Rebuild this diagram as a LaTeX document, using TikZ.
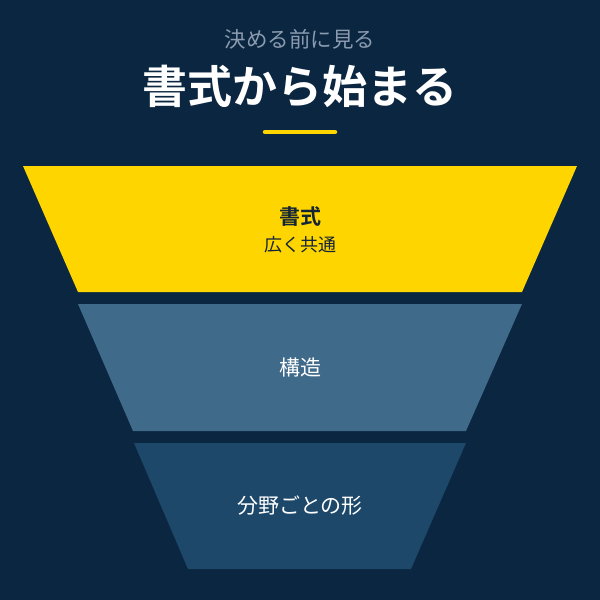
\documentclass[tikz,border=0pt]{standalone}
\usepackage{fontspec}
\setmainfont{Noto Sans CJK JP}
\newfontfamily\cjk{Noto Sans CJK JP}
\newfontfamily\cjkbold{Noto Sans CJK JP Bold}
\definecolor{bg}{HTML}{0B2640}
\definecolor{ylw}{HTML}{FFD500}
\definecolor{midblue}{HTML}{3F6A8A}
\definecolor{lowblue}{HTML}{1E486A}
\definecolor{subgrey}{HTML}{8A9BB0}
\definecolor{darktext}{HTML}{142536}
\begin{document}
\begin{tikzpicture}[x=1pt,y=-1pt,
  lbl/.style={inner sep=0pt,anchor=center},
  band/.style={draw=none}]
\fill[bg] (0,0) rectangle (600,600);
\useasboundingbox (0,0) rectangle (600,600);
\node[lbl,text=subgrey,font=\cjk\fontsize{21.5}{24}\selectfont] (sub) at (300,39) {決める前に見る};
\node[lbl,text=white,font=\cjkbold\fontsize{45}{50}\selectfont] (title) at (300,86) {書式から始まる};
\draw[ylw,line width=4.5pt,line cap=round] (265,132) -- (335,132);
\fill[ylw,band] (23,166) -- (577,166) -- (522,292) -- (78,292) -- cycle;
\fill[midblue,band] (78,304) -- (522,304) -- (466,431) -- (133,431) -- cycle;
\fill[lowblue,band] (134,443) -- (466,443) -- (411,569) -- (188,569) -- cycle;
\node[lbl,text=darktext,font=\cjkbold\fontsize{21}{24}\selectfont] (t1) at (300,217) {書式};
\node[lbl,text=darktext,font=\cjk\fontsize{18}{20}\selectfont] (t1b) at (300,245) {広く共通};
\node[lbl,text=white,font=\cjk\fontsize{21}{24}\selectfont] (t2) at (300,368) {構造};
\node[lbl,text=white,font=\cjk\fontsize{21}{24}\selectfont] (t3) at (300,506) {分野ごとの形};
\end{tikzpicture}
\end{document}
